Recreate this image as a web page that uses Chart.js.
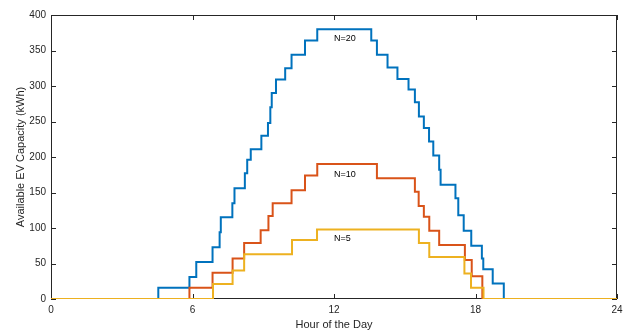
<!DOCTYPE html>
<html>
<head>
<meta charset="utf-8">
<script src="https://cdn.jsdelivr.net/npm/chart.js@4/dist/chart.umd.min.js"></script>
<style>
html, body { margin: 0; padding: 0; background: #fff; }
#wrap { width: 636px; height: 331px; }
</style>
</head>
<body>
<div id="wrap"><canvas id="chart"></canvas></div>
<script>
// hour at which the level changes, and the new level (kWh)
const hours20 = [0, 4.55, 5.87, 6.16, 6.85, 7.15, 7.2, 7.69, 7.78, 8.22, 8.32, 8.47, 8.92, 9.2, 9.3, 9.36, 9.54, 9.93, 10.2, 10.77, 11.29,
                 13.58, 13.82, 14.27, 14.69, 15.16, 15.43, 15.6, 15.81, 16.03, 16.21, 16.46, 16.52, 17.15, 17.27, 17.5, 17.82, 18.27, 18.33, 18.73, 19.2, 24];
const kwh20 = [0, 16, 31, 52, 73, 94, 115, 135, 156, 177, 196, 211, 230, 248, 270, 290, 309, 325, 344, 364, 380,
               364, 344, 326, 310, 295, 277, 257, 241, 222, 202, 182, 161, 142, 118, 96, 75, 57, 42, 22, 0, 0];

const hours10 = [0, 5.87, 6.85, 7.7, 8.19, 8.89, 9.22, 9.4, 10.2, 10.77, 11.29,
                 13.82, 15.43, 15.59, 15.81, 16.04, 16.46, 17.55, 17.84, 18.29, 24];
const kwh10 = [0, 16, 37, 57, 79, 97, 117, 135, 153, 174, 190,
               170, 151, 131, 116, 96, 76, 55, 32, 0, 0];

const hours5 = [0, 6.87, 7.7, 8.19, 10.22, 11.28, 15.6, 16.04, 17.53, 17.81, 18.34, 24];
const kwh5 = [0, 21, 40, 63, 83, 98, 79, 59, 36, 16, 0, 0];

const xTicks = [0, 6, 12, 18, 24];
const yTicks = [0, 50, 100, 150, 200, 250, 300, 350, 400];

const noteTexts = ["N=20", "N=10", "N=5"];
const noteHours = [12, 12, 12];
const noteKwh = [367, 176, 84.5];

function points(hs, vs) {
    return hs.map(function (h, i) { return { x: h, y: vs[i] }; });
}

const INK = "#262626";

// MATLAB-like box with inward ticks, drawn under the lines
const axesBox = {
    id: "axesBox",
    beforeDatasetsDraw(chart) {
        const { ctx, chartArea: a, scales: { x, y } } = chart;
        const len = 5;
        ctx.save();
        ctx.strokeStyle = INK;
        ctx.lineWidth = 1;
        ctx.beginPath();
        ctx.rect(a.left + 0.5, a.top + 0.5, a.right - a.left - 1, a.bottom - a.top - 1);
        xTicks.forEach(function (t) {
            const px = Math.round(x.getPixelForValue(t)) + 0.5;
            ctx.moveTo(px, a.bottom); ctx.lineTo(px, a.bottom - len);
            ctx.moveTo(px, a.top); ctx.lineTo(px, a.top + len);
        });
        yTicks.forEach(function (t) {
            const py = Math.round(y.getPixelForValue(t)) + 0.5;
            ctx.moveTo(a.left, py); ctx.lineTo(a.left + len, py);
            ctx.moveTo(a.right, py); ctx.lineTo(a.right - len, py);
        });
        ctx.stroke();
        ctx.restore();
    }
};

const notes = {
    id: "notes",
    afterDatasetsDraw(chart) {
        const { ctx, scales: { x, y } } = chart;
        ctx.save();
        ctx.fillStyle = "#000";
        ctx.font = "9px 'Liberation Sans', Arial, sans-serif";
        ctx.textAlign = "left";
        ctx.textBaseline = "middle";
        noteTexts.forEach(function (s, i) {
            ctx.fillText(s, x.getPixelForValue(noteHours[i]), y.getPixelForValue(noteKwh[i]));
        });
        ctx.restore();
    }
};

const tickFont = { family: "'Liberation Sans', Arial, sans-serif", size: 10 };
const titleFont = { family: "'Liberation Sans', Arial, sans-serif", size: 11 };

new Chart(document.getElementById("chart"), {
    type: "line",
    data: {
        datasets: [
            { label: "N=20", data: points(hours20, kwh20), borderColor: "#0072BD", order: 3 },
            { label: "N=10", data: points(hours10, kwh10), borderColor: "#D95319", order: 2 },
            { label: "N=5", data: points(hours5, kwh5), borderColor: "#EDB120", order: 1 }
        ]
    },
    options: {
        responsive: true,
        maintainAspectRatio: false,
        animation: false,
        events: [],
        layout: { padding: { left: 0, right: 19, top: 15, bottom: 0 } },
        elements: {
            line: { stepped: true, borderWidth: 2, fill: false, tension: 0 },
            point: { radius: 0 }
        },
        plugins: { legend: { display: false }, tooltip: { enabled: false } },
        scales: {
            x: {
                type: "linear",
                min: 0, max: 24,
                afterBuildTicks: function (s) { s.ticks = xTicks.map(function (v) { return { value: v }; }); },
                afterFit: function (s) { s.height = 32; },
                grid: { display: false, drawTicks: false },
                border: { display: false },
                ticks: { color: INK, font: tickFont, padding: 5, maxRotation: 0 },
                title: { display: true, text: "Hour of the Day", color: INK, font: titleFont, padding: { top: 0, bottom: -1 } }
            },
            y: {
                type: "linear",
                min: 0, max: 400,
                afterBuildTicks: function (s) { s.ticks = yTicks.map(function (v) { return { value: v }; }); },
                afterFit: function (s) { s.width = 51; },
                grid: { display: false, drawTicks: false },
                border: { display: false },
                ticks: { color: INK, font: tickFont, padding: 5 },
                title: { display: true, text: "Available EV Capacity (kWh)", color: INK, font: titleFont, padding: { top: 14, bottom: 0 } }
            }
        }
    },
    plugins: [axesBox, notes]
});
</script>
</body>
</html>
